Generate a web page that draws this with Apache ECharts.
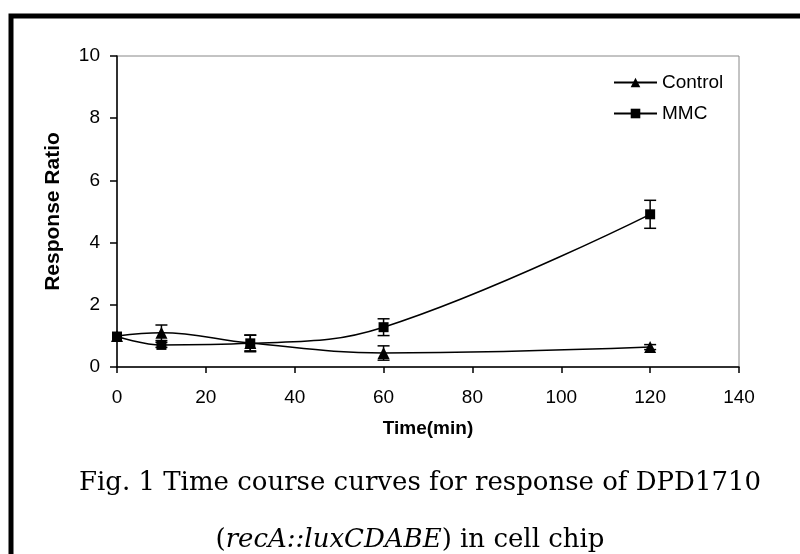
<!DOCTYPE html>
<html>
<head>
<meta charset="utf-8">
<script src="https://cdn.jsdelivr.net/npm/echarts@6/dist/echarts.min.js"></script>
<style>
  html, body { margin: 0; padding: 0; background: #fff; }
  #chart { width: 800px; height: 554px; }
</style>
</head>
<body>
<div id="chart"></div>
<script>
// ---- data ----
var times = [0, 10, 30, 60, 120];
var controlValues = [1.0, 1.1, 0.77, 0.45, 0.64];
var controlErrors = [0.0, 0.25, 0.25, 0.23, 0.08];
var mmcValues = [0.98, 0.71, 0.76, 1.28, 4.91];
var mmcErrors = [0.0, 0.08, 0.27, 0.27, 0.45];
var seriesNames = ['Control', 'MMC'];
var yTicks = [0, 2, 4, 6, 8, 10];
var xTicks = [0, 20, 40, 60, 80, 100, 120, 140];
var xTitle = 'Time(min)';
var yTitle = 'Response Ratio';
var captionLine1 = 'Fig. 1 Time course curves for response of DPD1710';
var captionLine2Italic = 'recA::luxCDABE';
var captionLine2Rest = ') in cell chip';

function pairs(xs, ys) { return xs.map(function (x, i) { return [x, ys[i]]; }); }
function errData(xs, ys, es) {
  var out = [];
  xs.forEach(function (x, i) { if (es[i] > 0) out.push([x, ys[i] - es[i], ys[i] + es[i]]); });
  return out;
}
function errRender(params, api) {
  var lo = api.coord([api.value(0), api.value(1)]);
  var hi = api.coord([api.value(0), api.value(2)]);
  var w = 6;
  var st = { stroke: '#000', lineWidth: 1.5 };
  return { type: 'group', children: [
    { type: 'line', shape: { x1: lo[0], y1: lo[1], x2: hi[0], y2: hi[1] }, style: st },
    { type: 'line', shape: { x1: lo[0] - w, y1: lo[1], x2: lo[0] + w, y2: lo[1] }, style: st },
    { type: 'line', shape: { x1: hi[0] - w, y1: hi[1], x2: hi[0] + w, y2: hi[1] }, style: st }
  ]};
}

var chart = echarts.init(document.getElementById('chart'), null, { renderer: 'canvas' });
var axisFont = { fontFamily: 'Arial, "Liberation Sans", sans-serif', fontSize: 19, color: '#000' };
var capFont = '26px "DejaVu Serif", "Liberation Serif", serif';
chart.setOption({
  animation: false,
  backgroundColor: '#fff',
  grid: { left: 117, right: 61, top: 56, bottom: 187, show: true, borderColor: '#888', borderWidth: 1 },
  xAxis: {
    type: 'value', min: xTicks[0], max: xTicks[xTicks.length - 1], interval: 20,
    name: xTitle, nameLocation: 'middle', nameGap: 52,
    nameTextStyle: { fontFamily: 'Arial, "Liberation Sans", sans-serif', fontSize: 19, fontWeight: 'bold', color: '#000' },
    axisLine: { show: true, onZero: false, lineStyle: { color: '#000', width: 1.5 } },
    axisTick: { show: true, inside: false, length: 6, lineStyle: { color: '#000', width: 1.5 } },
    axisLabel: Object.assign({ margin: 21 }, axisFont),
    splitLine: { show: false }
  },
  yAxis: {
    type: 'value', min: yTicks[0], max: yTicks[yTicks.length - 1], interval: 2,
    name: yTitle, nameLocation: 'middle', nameGap: 53, nameRotate: 90,
    nameTextStyle: { fontFamily: 'Arial, "Liberation Sans", sans-serif', fontSize: 21, fontWeight: 'bold', color: '#000' },
    axisLine: { show: true, lineStyle: { color: '#000', width: 1.5 } },
    axisTick: { show: true, inside: false, length: 7, lineStyle: { color: '#000', width: 1.5 } },
    axisLabel: Object.assign({ margin: 17 }, axisFont),
    splitLine: { show: false }
  },
  legend: {
    data: seriesNames, orient: 'vertical', left: 613, top: 73, padding: 0,
    itemWidth: 43, itemHeight: 12, itemGap: 12,
    textStyle: { fontFamily: 'Arial, "Liberation Sans", sans-serif', fontSize: 19, color: '#000' }
  },
  series: [
    { name: seriesNames[0], type: 'line', data: pairs(times, controlValues), smooth: 0.4,
      symbol: 'triangle', symbolSize: 12, itemStyle: { color: '#000' },
      lineStyle: { color: '#000', width: 1.5 }, z: 3 },
    { name: seriesNames[1], type: 'line', data: pairs(times, mmcValues), smooth: 0.4,
      symbol: 'rect', symbolSize: 10, itemStyle: { color: '#000' },
      lineStyle: { color: '#000', width: 1.5 }, z: 3 },
    { type: 'custom', renderItem: errRender, data: errData(times, controlValues, controlErrors), z: 4 },
    { type: 'custom', renderItem: errRender, data: errData(times, mmcValues, mmcErrors), z: 4 }
  ],
  graphic: [
    { type: 'rect', shape: { x: 11, y: 16, width: 900, height: 900 }, style: { fill: 'none', stroke: '#000', lineWidth: 5 }, silent: true },
    { type: 'text', x: 420, y: 496, style: { text: captionLine1, font: capFont, fill: '#000', align: 'center', verticalAlign: 'bottom' } },
    { type: 'text', x: 410, y: 553, style: {
        text: '(' + '{i|' + captionLine2Italic + '}' + captionLine2Rest,
        font: capFont, fill: '#000', align: 'center', verticalAlign: 'bottom',
        rich: { i: { fontFamily: '"DejaVu Serif", "Liberation Serif", serif', fontSize: 26, fontStyle: 'italic', fill: '#000' } } } }
  ]
});
</script>
</body>
</html>
